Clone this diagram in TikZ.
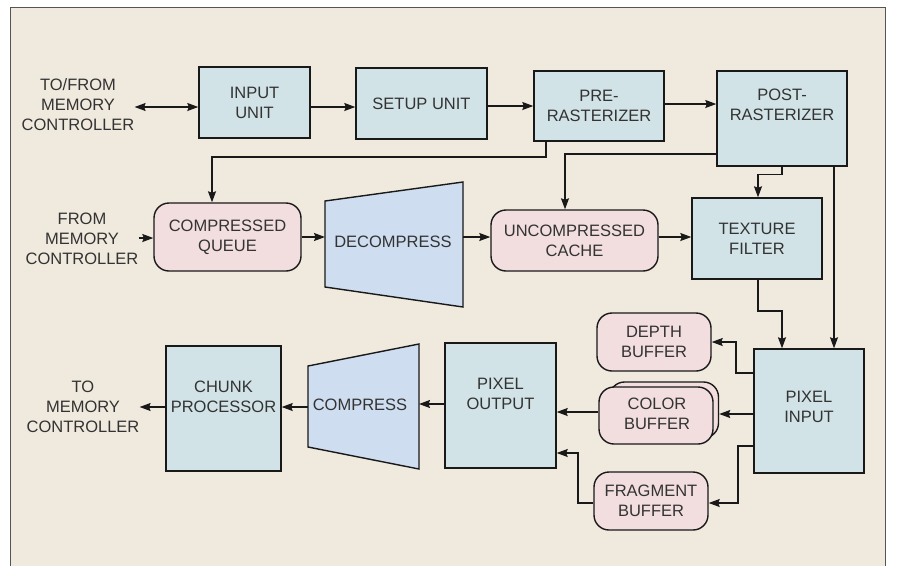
\documentclass[tikz,border=0pt]{standalone}
\usepackage{fontspec}
\setmainfont{Liberation Sans}
\usetikzlibrary{arrows.meta}
\definecolor{bgc}{HTML}{F0E9DE}
\definecolor{boxc}{HTML}{D1E3E7}
\definecolor{bufc}{HTML}{F2DEDF}
\definecolor{trapc}{HTML}{CFDDF0}
\definecolor{txtc}{HTML}{333333}
\definecolor{framec}{HTML}{555555}
\begin{document}
\begin{tikzpicture}[x=1pt,y=-1pt,
  font=\fontsize{16.5}{20}\selectfont,
  blk/.style={draw=black!90, line width=1.4pt, fill=boxc, inner sep=0pt},
  buf/.style={draw=black!90, line width=1.4pt, fill=bufc, inner sep=0pt, rounded corners=15pt},
  trap/.style={draw=black!90, line width=1.4pt, fill=trapc},
  txt/.style={text=txtc, align=center, inner sep=0pt},
  arr/.style={line width=1.3pt, draw=black!90, -{Stealth[length=11pt,width=8pt,inset=1.5pt]}},
  arrb/.style={line width=1.3pt, draw=black!90, {Stealth[length=11pt,width=8pt,inset=1.5pt]}-{Stealth[length=11pt,width=8pt,inset=1.5pt]}}
]
\useasboundingbox (0,0) rectangle (897,566);
\fill[white] (0,0) rectangle (897,566);
\fill[bgc] (10,7) rectangle (885,566);
\draw[framec, line width=0.9pt] (10,566) -- (10,7) -- (885,7) -- (885,566);

% top row
\node[txt] (tofrom) at (78,104.5) {TO/FROM\\MEMORY\\CONTROLLER};
\node[blk, minimum width=111pt, minimum height=71pt] (inp) at (254.5,102.5) {};
\node[txt] (inpt) at (254.5,102.5) {INPUT\\UNIT};
\node[blk, minimum width=131pt, minimum height=71pt] (setup) at (421.5,103.5) {};
\node[txt] (setupt) at (421.5,103.5) {SETUP UNIT};
\node[blk, minimum width=130pt, minimum height=70pt] (pre) at (599,106) {};
\node[txt] (pret) at (599,106) {PRE-\\RASTERIZER};
\node[blk, minimum width=130pt, minimum height=95pt] (post) at (782,118.5) {};
\node[txt] (postt) at (782,105) {POST-\\RASTERIZER};

% middle row
\node[txt] (frommem) at (82,238.7) {FROM\\MEMORY\\CONTROLLER};
\node[buf, minimum width=147pt, minimum height=68pt] (cq) at (227.5,237) {};
\node[txt] (cqt) at (227.5,237) {COMPRESSED\\QUEUE};
\draw[trap] (325,201) coordinate (dtl) -- (463,182) coordinate (dtr) -- (463,307) coordinate (dbr) -- (325,287) coordinate (dbl) -- cycle;
\coordinate (decL) at (325,237);
\coordinate (decR) at (463,237);
\node[txt] (dec) at (393,242) {DECOMPRESS};
\node[buf, minimum width=167pt, minimum height=61pt] (uc) at (574.5,240.5) {};
\node[txt] (uct) at (574.5,241) {UNCOMPRESSED\\CACHE};
\node[blk, minimum width=130pt, minimum height=81pt] (tex) at (757,238.5) {};
\node[txt] (text) at (757,238.5) {TEXTURE\\FILTER};

% bottom row
\node[blk, minimum width=110pt, minimum height=124pt] (pin) at (809,411) {};
\node[txt] (pint) at (809,407) {PIXEL\\INPUT};
\node[buf, minimum width=114pt, minimum height=58pt] (depth) at (654,342) {};
\node[txt] (deptht) at (654,342) {DEPTH\\BUFFER};
\node[buf, minimum width=109pt, minimum height=56pt] (colorb) at (664,410) {};
\node[buf, minimum width=114pt, minimum height=57pt] (color) at (656,415.5) {};
\node[txt] (colort) at (657,414) {COLOR\\BUFFER};
\node[buf, minimum width=114pt, minimum height=58pt] (frag) at (651,501) {};
\node[txt] (fragt) at (651,501) {FRAGMENT\\BUFFER};
\node[blk, minimum width=111pt, minimum height=125pt] (pout) at (500.5,405.5) {};
\node[txt] (poutt) at (500.5,394) {PIXEL\\OUTPUT};
\draw[trap] (308,366) coordinate (ctl) -- (419,344) coordinate (ctr) -- (419,469) coordinate (cbr) -- (308,447) coordinate (cbl) -- cycle;
\coordinate (cmpL) at (308,407);
\coordinate (cmpR) at (419,404);
\node[txt] (cmp) at (360,405) {COMPRESS};
\node[blk, minimum width=115pt, minimum height=125pt] (chunk) at (223.5,408.5) {};
\node[txt] (chunkt) at (223.5,397) {CHUNK\\PROCESSOR};
\node[txt] (tomem) at (83,407) {TO\\MEMORY\\CONTROLLER};

% connectors top
\draw[arrb] (tofrom.east |- 0,107) -- (inp.west |- 0,107);
\draw[arr] (inp.east |- 0,107) -- (setup.west |- 0,107);
\draw[arr] (setup.east |- 0,106) -- (pre.west |- 0,106);
\draw[arr] (pre.east |- 0,104) -- (post.west |- 0,104);
\draw[arr] (pre.south -| 546,0) -- (546,157) -| (cq.north -| 212,0);
\draw[arr] (post.west |- 0,154) -| (uc.north -| 565,0);
\draw[arr] (post.south) -- ++(0,8) -| (tex.north -| 758,0);
\draw[arr] (post.south -| 834,0) -- (pin.north -| 834,0);
\draw[arr] (tex.south -| 758,0) -- (758,311) -| (pin.north -| 782,0);

% connectors middle
\draw[arr] (frommem.east |- 0,238) -- (cq.west |- 0,238);
\draw[arr] (cq.east |- 0,237) -- (decL);
\draw[arr] (decR) -- (uc.west |- 0,237);
\draw[arr] (uc.east |- 0,237) -- (tex.west |- 0,237);

% connectors bottom
\draw[arr] (pin.west |- 0,373) -| (736,342) -- (depth.east);
\draw[arr] (pin.west |- 0,414) -- (colorb.east |- 0,414);
\draw[arr] (color.west |- 0,412) -- (pout.east |- 0,412);
\draw[arr] (pin.west |- 0,446) -| (738,503) -- (frag.east |- 0,503);
\draw[arr] (frag.west |- 0,503) -| (578,453) -- (pout.east |- 0,453);
\draw[arr] (pout.west |- 0,404) -- (cmpR);
\draw[arr] (cmpL) -- (chunk.east |- 0,407);
\draw[arr] (chunk.west |- 0,407) -- (tomem.east |- 0,407);
\end{tikzpicture}
\end{document}
